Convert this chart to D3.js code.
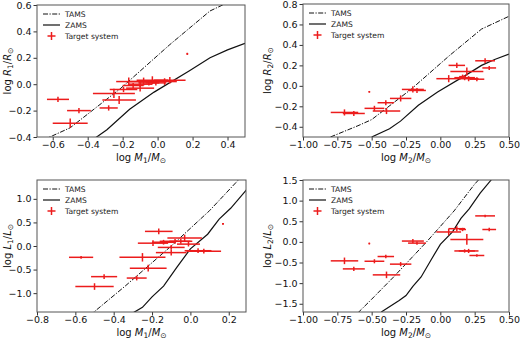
<!DOCTYPE html>
<html>
<head>
<meta charset="utf-8">
<script src="https://cdn.jsdelivr.net/npm/d3@7"></script>
<style>
  body { margin: 0; background: #fff; }
  svg { font-family: "DejaVu Sans", sans-serif; }
</style>
</head>
<body>
<div id="chart"></div>
<script>
// primary components (panels 1 and 3)
const m1 = [-0.57, -0.45, -0.50, -0.28, -0.25, -0.22, -0.165, -0.195, -0.14, -0.10, -0.10, -0.08, -0.03, -0.01, 0.04, 0.07, 0.17, -0.05];
const m1Err = [0.063, 0.068, 0.10, 0.052, 0.12, 0.096, 0.072, 0.079, 0.06, 0.08, 0.07, 0.08, 0.09, 0.06, 0.07, 0.09, 0.005, 0.06];
const r1 = [-0.115, -0.20, -0.295, -0.18, -0.07, -0.12, 0.02, -0.04, -0.01, -0.03, 0.00, 0.02, 0.03, 0.01, 0.02, 0.03, 0.23, 0.01];
const r1Err = [0.02, 0.02, 0.035, 0.02, 0.035, 0.03, 0.03, 0.02, 0.02, 0.025, 0.02, 0.03, 0.03, 0.02, 0.025, 0.025, 0.008, 0.02];
const l1 = [-0.24, -0.65, -0.86, -0.68, -0.24, -0.47, 0.31, 0.06, 0.08, -0.14, -0.03, 0.10, 0.17, 0.04, -0.10, -0.11, 0.47, 0.10];
const l1Err = [0.03, 0.05, 0.07, 0.05, 0.09, 0.07, 0.06, 0.06, 0.05, 0.06, 0.05, 0.05, 0.07, 0.05, 0.05, 0.05, 0.02, 0.05];

// secondary components (panels 2 and 4)
const m2 = [0.326, 0.356, 0.061, 0.12, 0.162, 0.193, 0.177, 0.206, 0.266, -0.517, -0.20, -0.17, -0.397, -0.48, -0.698, -0.63, -0.289, -0.392];
const m2Err = [0.072, 0.05, 0.09, 0.06, 0.025, 0.12, 0.075, 0.072, 0.054, 0.006, 0.08, 0.065, 0.06, 0.072, 0.10, 0.08, 0.078, 0.10];
const r2 = [0.245, 0.175, 0.07, 0.20, 0.09, 0.14, 0.08, 0.07, 0.065, -0.058, -0.035, -0.045, -0.165, -0.22, -0.26, -0.27, -0.123, -0.246];
const r2Err = [0.025, 0.02, 0.035, 0.025, 0.02, 0.04, 0.025, 0.025, 0.02, 0.008, 0.03, 0.025, 0.025, 0.025, 0.03, 0.025, 0.03, 0.03];
const l2 = [0.63, 0.30, 0.24, 0.32, 0.30, 0.06, -0.22, -0.22, -0.33, -0.04, 0.02, -0.03, -0.355, -0.47, -0.46, -0.655, -0.54, -0.80];
const l2Err = [0.03, 0.04, 0.08, 0.06, 0.04, 0.13, 0.04, 0.05, 0.03, 0.02, 0.05, 0.04, 0.04, 0.05, 0.08, 0.05, 0.05, 0.08];

// evolutionary tracks
const tamsMassR = [-0.80, -0.60, -0.50, -0.21, 0.07, 0.30, 0.50];
const tamsLogR = [-0.50, -0.39, -0.33, -0.03, 0.30, 0.555, 0.68];
const zamsMassR = [-0.50, -0.37, -0.29, -0.16, -0.02, 0.18, 0.30, 0.40, 0.50];
const zamsLogR = [-0.50, -0.42, -0.345, -0.19, -0.06, 0.10, 0.20, 0.26, 0.31];
const tamsMassL = [-0.60, -0.50, -0.34, -0.10, 0.10, 0.25, 0.30];
const tamsLogL = [-1.72, -1.39, -0.85, 0.0, 0.75, 1.40, 1.58];
const zamsMassL = [-0.43, -0.30, -0.25, -0.20, -0.14, -0.07, 0.0, 0.09, 0.15, 0.21, 0.29, 0.37, 0.40];
const zamsLogL = [-1.70, -1.42, -1.30, -1.08, -0.85, -0.45, -0.06, 0.25, 0.57, 0.80, 1.18, 1.50, 1.65];

// ticks
const xTicksA = [-0.6, -0.4, -0.2, 0.0, 0.2, 0.4];
const yTicksA = [-0.4, -0.2, 0.0, 0.2, 0.4, 0.6];
const xTicksB = [-1.0, -0.75, -0.5, -0.25, 0.0, 0.25, 0.5];
const yTicksB = [-0.4, -0.2, 0.0, 0.2, 0.4, 0.6, 0.8];
const xTicksC = [-0.8, -0.6, -0.4, -0.2, 0.0, 0.2];
const yTicksC = [-1.0, -0.5, 0.0, 0.5, 1.0];
const xTicksD = [-1.0, -0.75, -0.5, -0.25, 0.0, 0.25, 0.5];
const yTicksD = [-1.5, -1.0, -0.5, 0.0, 0.5, 1.0, 1.5];

const legendLabels = ["TAMS", "ZAMS", "Target system"];
const RED = "#ec1c1c";

const svg = d3.select("#chart").append("svg")
  .attr("width", 520).attr("height", 340);

const zip = (a, b) => a.map((v, i) => [v, b[i]]);

const panels = [
  { left: 37, top: 5, w: 208, h: 132, xd: [-0.69, 0.5], yd: [-0.4, 0.6],
    xt: xTicksA, yt: yTicksA, xf: ".1f", yf: ".1f",
    xs: m1, xe: m1Err, ys: r1, ye: r1Err,
    tams: zip(tamsMassR, tamsLogR), zams: zip(zamsMassR, zamsLogR),
    xl: ["M", "1", "M"], yl: ["R", "1", "R"], ylx: 11 },
  { left: 303, top: 4, w: 206, h: 133, xd: [-1.0, 0.5], yd: [-0.5, 0.8],
    xt: xTicksB, yt: yTicksB, xf: ".2f", yf: ".1f",
    xs: m2, xe: m2Err, ys: r2, ye: r2Err,
    tams: zip(tamsMassR, tamsLogR), zams: zip(zamsMassR, zamsLogR),
    xl: ["M", "2", "M"], yl: ["R", "2", "R"], ylx: 271 },
  { left: 37, top: 180, w: 209, h: 132, xd: [-0.8, 0.29], yd: [-1.4, 1.4],
    xt: xTicksC, yt: yTicksC, xf: ".1f", yf: ".1f",
    xs: m1, xe: m1Err, ys: l1, ye: l1Err,
    tams: zip(tamsMassL, tamsLogL), zams: zip(zamsMassL, zamsLogL),
    xl: ["M", "1", "M"], yl: ["L", "1", "L"], ylx: 11 },
  { left: 303, top: 180, w: 206, h: 132, xd: [-1.0, 0.5], yd: [-1.7, 1.5],
    xt: xTicksD, yt: yTicksD, xf: ".2f", yf: ".1f",
    xs: m2, xe: m2Err, ys: l2, ye: l2Err,
    tams: zip(tamsMassL, tamsLogL), zams: zip(zamsMassL, zamsLogL),
    xl: ["M", "2", "M"], yl: ["L", "2", "L"], ylx: 271 }
];

// "log X_n/X_sun" as mathtext-like tspans
function mathLabel(text, parts) {
  text.append("tspan").text("log ");
  text.append("tspan").attr("font-style", "italic").text(parts[0]);
  text.append("tspan").attr("font-size", "7.5px").attr("dy", 2).text(parts[1]);
  text.append("tspan").attr("dy", -2).text("/");
  text.append("tspan").attr("font-style", "italic").text(parts[2]);
  text.append("tspan").attr("font-size", "7.5px").attr("dy", 2).text("\u2299");
}

panels.forEach((p, i) => {
  const x = d3.scaleLinear().domain(p.xd).range([p.left, p.left + p.w]);
  const y = d3.scaleLinear().domain(p.yd).range([p.top + p.h, p.top]);

  const clipId = "clip" + i;
  svg.append("clipPath").attr("id", clipId)
    .append("rect").attr("x", p.left).attr("y", p.top).attr("width", p.w).attr("height", p.h);

  const g = svg.append("g").attr("clip-path", `url(#${clipId})`);
  const line = d3.line().x(d => x(d[0])).y(d => y(d[1]));

  g.append("path").attr("d", line(p.tams))
    .attr("fill", "none").attr("stroke", "#111").attr("stroke-width", 1)
    .attr("stroke-dasharray", "5,1.5,1.2,1.5");
  g.append("path").attr("d", line(p.zams))
    .attr("fill", "none").attr("stroke", "#111").attr("stroke-width", 1.2);

  // error bars
  const pts = p.xs.map((m, k) => ({ m, me: p.xe[k], v: p.ys[k], ve: p.ye[k] }));
  g.selectAll("line.xerr").data(pts).join("line").attr("class", "xerr")
    .attr("x1", d => x(d.m - d.me)).attr("x2", d => x(d.m + d.me))
    .attr("y1", d => y(d.v)).attr("y2", d => y(d.v))
    .attr("stroke", RED).attr("stroke-width", 1.5);
  g.selectAll("line.yerr").data(pts).join("line").attr("class", "yerr")
    .attr("x1", d => x(d.m)).attr("x2", d => x(d.m))
    .attr("y1", d => y(d.v - d.ve)).attr("y2", d => y(d.v + d.ve))
    .attr("stroke", RED).attr("stroke-width", 1.5);

  // axes
  const xAxis = svg.append("g").attr("transform", `translate(0,${p.top + p.h})`)
    .call(d3.axisBottom(x).tickValues(p.xt).tickFormat(d3.format(p.xf)).tickSize(3.5).tickPadding(1));
  const yAxis = svg.append("g").attr("transform", `translate(${p.left},0)`)
    .call(d3.axisLeft(y).tickValues(p.yt).tickFormat(d3.format(p.yf)).tickSize(3.5).tickPadding(2));
  [xAxis, yAxis].forEach(a => {
    a.select(".domain").remove();
    a.selectAll("line").attr("stroke", "#333");
    a.selectAll("text").attr("font-size", "9.5px").attr("fill", "#111")
      .attr("font-family", "DejaVu Sans, sans-serif");
  });

  svg.append("rect").attr("x", p.left).attr("y", p.top).attr("width", p.w).attr("height", p.h)
    .attr("fill", "none").attr("stroke", "#555").attr("stroke-width", 1);

  // axis labels
  const xl = svg.append("text").attr("x", p.left + p.w / 2).attr("y", p.top + p.h + 23.5)
    .attr("text-anchor", "middle").attr("font-size", "10px").attr("fill", "#111");
  mathLabel(xl, p.xl);
  const yl = svg.append("text")
    .attr("transform", `translate(${p.ylx},${p.top + p.h / 2}) rotate(-90)`)
    .attr("text-anchor", "middle").attr("font-size", "10px").attr("fill", "#111");
  mathLabel(yl, p.yl);

  // legend
  const lx = p.left + 6, ly = p.top + 9;
  const leg = svg.append("g");
  leg.append("line").attr("x1", lx).attr("x2", lx + 17).attr("y1", ly).attr("y2", ly)
    .attr("stroke", "#111").attr("stroke-width", 1).attr("stroke-dasharray", "5,1.5,1.2,1.5");
  leg.append("line").attr("x1", lx).attr("x2", lx + 17).attr("y1", ly + 11).attr("y2", ly + 11)
    .attr("stroke", "#111").attr("stroke-width", 1.2);
  const cx = lx + 8.5, cy = ly + 22;
  leg.append("line").attr("x1", cx - 4).attr("x2", cx + 4).attr("y1", cy).attr("y2", cy)
    .attr("stroke", RED).attr("stroke-width", 1.5);
  leg.append("line").attr("x1", cx).attr("x2", cx).attr("y1", cy - 4).attr("y2", cy + 4)
    .attr("stroke", RED).attr("stroke-width", 1.5);
  leg.selectAll("text").data(legendLabels).join("text")
    .attr("x", lx + 22).attr("y", (d, k) => ly + k * 11 + 3)
    .attr("font-size", "7.6px").attr("fill", "#222").text(d => d);
});
</script>
</body>
</html>
